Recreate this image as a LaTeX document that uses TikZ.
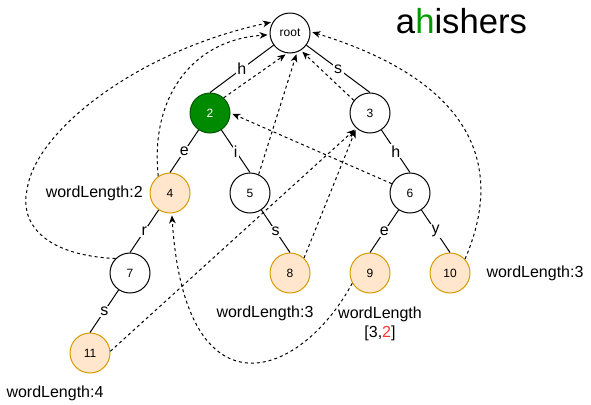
\documentclass[tikz,border=0pt]{standalone}
\usepackage{fontspec}
\setmainfont{Liberation Sans}
\usetikzlibrary{arrows.meta}
\definecolor{wfill}{HTML}{FFE6CC}
\definecolor{wdraw}{HTML}{D79B00}
\definecolor{gfill}{HTML}{008A00}
\definecolor{gdraw}{HTML}{005700}
\definecolor{hgreen}{HTML}{009900}
\definecolor{redtxt}{HTML}{FF3333}
\begin{document}
\begin{tikzpicture}[x=0.75pt,y=-0.75pt,
  trie/.style={circle,draw=black,line width=0.75pt,minimum size=30pt,inner sep=0pt,font=\fontsize{9}{11}\selectfont},
  wordnode/.style={trie,fill=wfill,draw=wdraw},
  greennode/.style={trie,fill=gfill,draw=gdraw,text=white},
  tedge/.style={line width=0.75pt},
  lbl/.style={midway,fill=white,inner sep=1pt,font=\fontsize{12}{14}\selectfont},
  txt/.style={font=\fontsize{12}{14}\selectfont,inner sep=0pt},
  link/.style={line width=0.75pt,dash pattern=on 2.25pt off 2.25pt,-{Stealth[length=6pt,width=5pt,inset=1.8pt]},shorten >=1.5pt}
]
\useasboundingbox (0,0) rectangle (591,404);
% nodes
\node[trie] (root) at (290,33) {root};
\node[greennode] (n2) at (210,113) {2};
\node[trie] (n3) at (370,113) {3};
\node[wordnode] (n4) at (170,193) {4};
\node[trie] (n5) at (250,193) {5};
\node[trie] (n6) at (410,193) {6};
\node[trie] (n7) at (130,273) {7};
\node[wordnode] (n8) at (290,273) {8};
\node[wordnode] (n9) at (370,273) {9};
\node[wordnode] (n10) at (450,273) {10};
\node[wordnode] (n11) at (90,353) {11};
% title
\node[font=\fontsize{26}{30}\selectfont,anchor=base,inner sep=0pt] (title) at (461.5,33) {a\textcolor{hgreen}{h}ishers};
% labels
\node[txt,anchor=east] (wl2) at (143,193) {wordLength:2};
\node[txt] (wl4) at (55,393) {wordLength:4};
\node[txt] (wl8) at (265,313) {wordLength:3};
\node[txt,align=center] (wl9) at (380,324) {wordLength\\{}[3,\textcolor{redtxt}{2}]};
\node[txt] (wl10) at (535,273) {wordLength:3};
% trie edges
\draw[tedge] (root) -- node[lbl]{h} (n2.north);
\draw[tedge] (root) -- node[lbl]{s} (n3.north);
\draw[tedge] (n2) -- node[lbl]{e} (n4.north);
\draw[tedge] (n2) -- node[lbl]{i} (n5.north);
\draw[tedge] (n3) -- node[lbl]{h} (n6.north);
\draw[tedge] (n4) -- node[lbl]{r} (n7.north);
\draw[tedge] (n5) -- node[lbl]{s} (n8.north);
\draw[tedge] (n6) -- node[lbl]{e} (n9.north);
\draw[tedge] (n6) -- node[lbl]{y} (n10.north);
\draw[tedge] (n7) -- node[lbl]{s} (n11.north);
% failure links
\draw[link] (n2.48) -- (root.262);
\draw[link] (n5.65) -- (root.290);
\draw[link] (n3.142) -- (root.302);
\draw[link] (n6.153) -- (n2.0);
\draw[link] (n8.47) -- (n3.228);
\draw[link] (n11.5) -- (n3.228);
\draw[link] (n7.135) .. controls (40,255) and (20,220) .. (27,190)
  .. controls (35,130) and (140,50) .. (root.147);
\draw[link] (n4.125) .. controls (150,100) and (190,40) .. (root.185);
\draw[link] (n10.43) .. controls (495,190) and (500,90) .. (root.4);
\draw[link] (n9.210) .. controls (300,380) and (185,420) .. (n4.275);
\end{tikzpicture}
\end{document}
